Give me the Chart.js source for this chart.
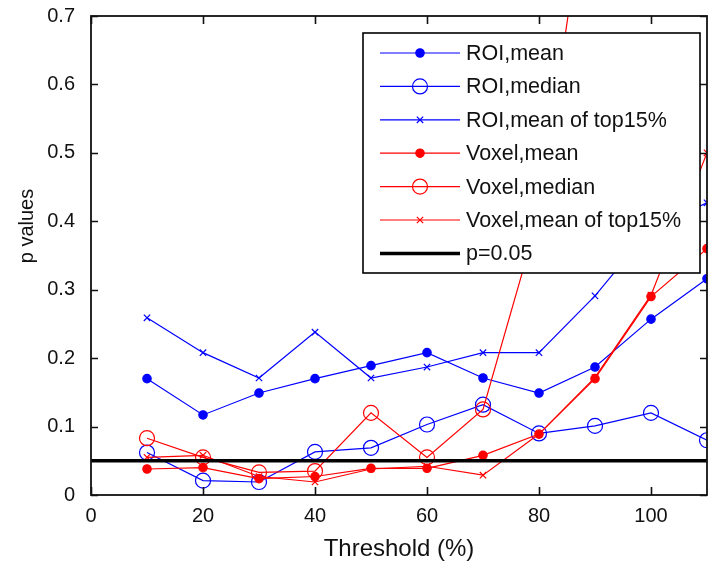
<!DOCTYPE html>
<html><head><meta charset="utf-8">
<script src="https://cdn.jsdelivr.net/npm/chart.js@4.4.1/dist/chart.umd.min.js"></script>
<style>html,body{margin:0;padding:0;background:#fff}#wrap{width:708px;height:568px}</style>
</head><body><div id="wrap"><canvas id="c" width="708" height="568"></canvas></div>
<script>
// ---- data ----
const thresholds   = [10, 20, 30, 40, 50, 60, 70, 80, 90, 100, 110];
const roiMean      = [0.170, 0.117, 0.149, 0.170, 0.189, 0.208, 0.171, 0.149, 0.187, 0.257, 0.316];
const roiMedian    = [0.062, 0.021, 0.019, 0.063, 0.069, 0.103, 0.132, 0.090, 0.101, 0.120, 0.080];
const roiTop15     = [0.259, 0.208, 0.171, 0.238, 0.171, 0.187, 0.208, 0.208, 0.291, 0.390, 0.427];
const voxelMean    = [0.038, 0.040, 0.024, 0.027, 0.039, 0.039, 0.058, 0.089, 0.170, 0.290, 0.360];
const voxelMedian  = [0.083, 0.055, 0.033, 0.035, 0.120, 0.055, 0.125, 0.410, 0.970, 0.900, 0.850];
const voxelTop15   = [0.055, 0.058, 0.027, 0.019, 0.038, 0.042, 0.029, 0.089, 0.172, 0.292, 0.500];
const pLineX       = [0, 110];
const pLineY       = [0.05, 0.05];
const seriesLabels = ['ROI,mean', 'ROI,median', 'ROI,mean of top15%', 'Voxel,mean', 'Voxel,median', 'Voxel,mean of top15%', 'p=0.05'];
const xTitle = 'Threshold (%)';
const yTitle = 'p values';

function pts(arr){ return thresholds.map((t,i)=>({x:t, y:arr[i]})); }

const BLUE='#0000ff', RED='#ff0000';
const LW=1.2;
function series(label, data, color, style, radius, order){
  return {label, data:pts(data), borderColor:color, backgroundColor: style==='open' ? 'rgba(0,0,0,0)' : color,
    borderWidth:LW, pointStyle: style==='open' ? 'circle' : style, pointRadius:radius, pointHoverRadius:radius,
    pointBorderColor:color, pointBackgroundColor: style==='open' ? 'rgba(0,0,0,0)' : color,
    pointBorderWidth:1.2, tension:0, fill:false, order};
}

const datasets = [
  series(seriesLabels[0], roiMean,     BLUE, 'circle',   4.2, 6),
  series(seriesLabels[1], roiMedian,   BLUE, 'open',     7.5, 5),
  series(seriesLabels[2], roiTop15,    BLUE, 'crossRot', 4.5, 4),
  series(seriesLabels[3], voxelMean,   RED,  'circle',   4.2, 3),
  series(seriesLabels[4], voxelMedian, RED,  'open',     7.5, 2),
  series(seriesLabels[5], voxelTop15,  RED,  'crossRot', 4.5, 1),
  {label:seriesLabels[6], data:pLineX.map((x,i)=>({x, y:pLineY[i]})), borderColor:'#000', backgroundColor:'#000',
   borderWidth:3.5, pointRadius:0, tension:0, fill:false, order:0}
];

function drawMarker(ctx, ds, x, y){
  const r = ds.pointRadius||0; if(!r) return;
  ctx.save();
  ctx.strokeStyle = ds.pointBorderColor; ctx.fillStyle = ds.pointBackgroundColor; ctx.lineWidth = ds.pointBorderWidth;
  if(ds.pointStyle==='crossRot'){
    const d = r*Math.SQRT1_2;
    ctx.beginPath(); ctx.moveTo(x-d,y-d); ctx.lineTo(x+d,y+d); ctx.moveTo(x+d,y-d); ctx.lineTo(x-d,y+d); ctx.stroke();
  } else {
    ctx.beginPath(); ctx.arc(x,y,r,0,Math.PI*2); ctx.fill(); ctx.stroke();
  }
  ctx.restore();
}

const frameTicks = {
  id:'frameTicks',
  afterDatasetsDraw(chart){
    const {ctx, chartArea:a, scales:{x, y}} = chart;
    ctx.save();
    ctx.strokeStyle='#111'; ctx.lineWidth=1.6;
    ctx.beginPath();
    x.ticks.forEach(t=>{ const px=Math.round(x.getPixelForValue(t.value))+0.5;
      ctx.moveTo(px,a.bottom); ctx.lineTo(px,a.bottom-8); ctx.moveTo(px,a.top); ctx.lineTo(px,a.top+8); });
    y.ticks.forEach(t=>{ const py=Math.round(y.getPixelForValue(t.value))+0.5;
      ctx.moveTo(a.left,py); ctx.lineTo(a.left+7,py); ctx.moveTo(a.right,py); ctx.lineTo(a.right-7,py); });
    ctx.stroke();
    ctx.lineWidth=1.8;
    ctx.strokeRect(a.left, a.top, a.right-a.left, a.bottom-a.top);
    // axis titles
    ctx.fillStyle='#111';
    ctx.font='24px "Liberation Sans", Arial, sans-serif';
    ctx.textAlign='center'; ctx.textBaseline='middle';
    ctx.fillText(xTitle, (a.left+a.right)/2, 549);
    ctx.save();
    ctx.translate(27, 226); ctx.rotate(-Math.PI/2);
    ctx.font='20px "Liberation Sans", Arial, sans-serif';
    ctx.fillText(yTitle, 0, 0);
    ctx.restore();
    ctx.restore();
  }
};

const boxLegend = {
  id:'boxLegend',
  afterDraw(chart){
    const ctx = chart.ctx;
    const L=363, T=33, R=700, B=273;
    ctx.save();
    ctx.fillStyle='#fff'; ctx.fillRect(L,T,R-L,B-T);
    ctx.strokeStyle='#000'; ctx.lineWidth=1.6; ctx.strokeRect(L,T,R-L,B-T);
    ctx.font='21.5px "Liberation Sans", Arial, sans-serif';
    ctx.textBaseline='middle'; ctx.textAlign='left';
    chart.data.datasets.forEach((ds,i)=>{
      const yy = T + 20 + i*33.4;
      ctx.strokeStyle=ds.borderColor; ctx.lineWidth=ds.borderWidth;
      ctx.beginPath(); ctx.moveTo(380,yy); ctx.lineTo(460,yy); ctx.stroke();
      drawMarker(ctx, ds, 420, yy);
      ctx.fillStyle='#111';
      ctx.fillText(ds.label, 466, yy+1);
    });
    ctx.restore();
  }
};

new Chart(document.getElementById('c'), {
  type:'line',
  data:{datasets},
  options:{
    responsive:false, animation:false, devicePixelRatio:1,
    layout:{autoPadding:false, padding:{left:0, right:1, top:16, bottom:0}},
    plugins:{legend:{display:false}, tooltip:{enabled:false}},
    scales:{
      x:{type:'linear', min:0, max:110,
         grid:{display:false, drawTicks:false}, border:{display:false},
         ticks:{stepSize:20, includeBounds:false, padding:9, color:'#111', maxRotation:0,
                font:{family:'"Liberation Sans", Arial, sans-serif', size:20}},
         afterFit(s){ s.height = 73; s.paddingLeft = 0; s.paddingRight = 0; }},
      y:{type:'linear', min:0, max:0.7,
         grid:{display:false, drawTicks:false}, border:{display:false},
         ticks:{stepSize:0.1, padding:16, color:'#111',
                font:{family:'"Liberation Sans", Arial, sans-serif', size:20},
                callback:v=>String(+v.toFixed(1))},
         afterFit(s){ s.width = 91; s.paddingTop = 0; s.paddingBottom = 0; }}
    }
  },
  plugins:[frameTicks, boxLegend]
});
</script>
</body></html>
